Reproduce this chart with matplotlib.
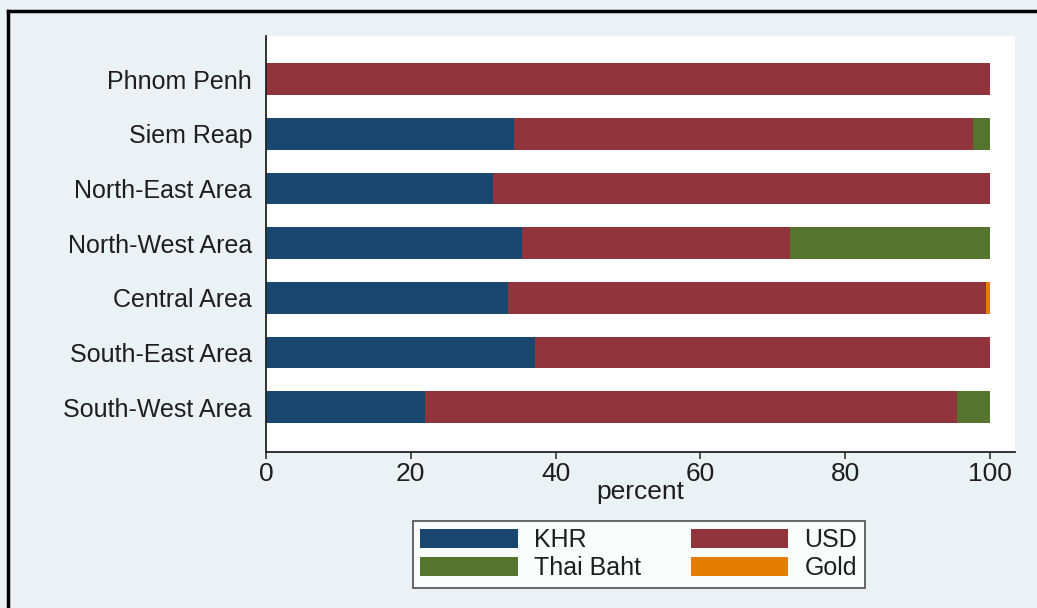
import numpy as np
import matplotlib.pyplot as plt
from matplotlib.lines import Line2D

plt.rcParams['font.family'] = ['Liberation Sans', 'DejaVu Sans']

# data (percent of holdings per currency)
regions = ['Phnom Penh', 'Siem Reap', 'North-East Area', 'North-West Area',
           'Central Area', 'South-East Area', 'South-West Area']
khr = [0.0, 34.2, 31.4, 35.4, 33.4, 37.1, 22.0]
usd = [100.0, 63.5, 68.6, 37.0, 66.1, 62.9, 73.4]
baht = [0.0, 2.3, 0.0, 27.6, 0.0, 0.0, 4.6]
gold = [0.0, 0.0, 0.0, 0.0, 0.5, 0.0, 0.0]
series_names = ['KHR', 'USD', 'Thai Baht', 'Gold']

colors = ['#1a476f', '#90353b', '#55752f', '#e37e00']
bg = '#eaf2f5'
txt = '#1e1e1e'

fig = plt.figure(figsize=(10.37, 6.08), dpi=100, facecolor=bg)
ax = fig.add_axes([0.2565, 0.2566, 0.9788 - 0.2565, 0.9408 - 0.2566])
ax.set_facecolor('white')

ypos = np.arange(len(regions))[::-1]
left = np.zeros(len(regions))
handles = []
for vals, col, name in zip([khr, usd, baht, gold], colors, series_names):
    b = ax.barh(ypos, vals, left=left, height=0.585, color=col, label=name)
    handles.append(b)
    left = left + np.array(vals)

ax.set_xlim(0, 103.45)
ax.set_ylim(-0.82, 6.79)
ax.set_yticks(ypos)
ax.set_yticklabels(regions, fontsize=18, color=txt)
ax.tick_params(axis='y', length=0, pad=10)
ax.set_xticks([0, 20, 40, 60, 80, 100])
ax.tick_params(axis='x', length=5, width=1.2, color='#333333', labelsize=19,
               labelcolor=txt, pad=2)
ax.set_xlabel('percent', fontsize=19, color=txt, labelpad=-4)

for s in ['top', 'right']:
    ax.spines[s].set_visible(False)
for s in ['left', 'bottom']:
    ax.spines[s].set_color('#222222')
    ax.spines[s].set_linewidth(1.3)

# legend filled row by row: KHR USD / Thai Baht Gold
order = [0, 2, 1, 3]
leg = fig.legend([handles[i] for i in order], [series_names[i] for i in order],
                 loc='upper center', bbox_to_anchor=(0.616, 0.1431), ncol=2,
                 fontsize=18, handlelength=3.9, handleheight=0.8,
                 handletextpad=0.64, columnspacing=2.0, labelspacing=0.15,
                 borderpad=0.3, borderaxespad=0, fancybox=False, frameon=True,
                 labelcolor=txt)
leg.get_frame().set_edgecolor('#333333')
leg.get_frame().set_linewidth(1.3)
leg.get_frame().set_facecolor('white')

# outer border (left and top only visible)
fig.add_artist(Line2D([8 / 1037, 8 / 1037], [0, 1 - 11 / 608],
                      transform=fig.transFigure, color='black', lw=2.5))
fig.add_artist(Line2D([8 / 1037, 1], [1 - 11 / 608, 1 - 11 / 608],
                      transform=fig.transFigure, color='black', lw=2.5))

fig.savefig('out.png', dpi=100, facecolor=bg)
